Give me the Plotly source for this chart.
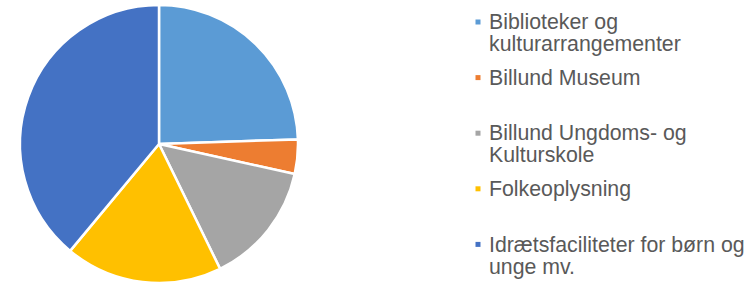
import plotly.graph_objects as go

# Data
categories = [
    "Biblioteker og kulturarrangementer",
    "Billund Museum",
    "Billund Ungdoms- og Kulturskole",
    "Folkeoplysning",
    "Idrætsfaciliteter for børn og unge mv.",
]
legend_lines = [
    ["Biblioteker og", "kulturarrangementer"],
    ["Billund Museum"],
    ["Billund Ungdoms- og", "Kulturskole"],
    ["Folkeoplysning"],
    ["Idrætsfaciliteter for børn og", "unge mv."],
]
shares = [24.5, 4.0, 14.3, 18.3, 39.0]
colors = ["#5B9BD5", "#ED7D31", "#A5A5A5", "#FFC000", "#4472C4"]

W, H = 749, 284

fig = go.Figure()
fig.add_trace(go.Pie(
    labels=categories,
    values=shares,
    sort=False,
    direction="clockwise",
    rotation=0,
    marker=dict(colors=colors, line=dict(color="white", width=2.5)),
    textinfo="none",
    showlegend=False,
    domain=dict(x=[20 / W, 298 / W], y=[1 - 283 / H, 1 - 5 / H]),
))

# Legend drawn as text annotations + square swatches
font = dict(family="Liberation Sans, Arial, sans-serif", size=21.3, color="#595959")
item_pitch = 55.6
line_pitch = 22.0
first_baseline = 29.5
annotations = []
shapes = []
for i, lines in enumerate(legend_lines):
    base = first_baseline + i * item_pitch
    for j, txt in enumerate(lines):
        b = base + j * line_pitch
        annotations.append(dict(
            x=487 / W, y=1 - (b - 7.3) / H, xref="paper", yref="paper",
            xanchor="left", yanchor="middle", text=txt, showarrow=False,
            font=font,
        ))
    cy = base - 7.5
    shapes.append(dict(
        type="rect", xref="paper", yref="paper",
        x0=475.5 / W, x1=480.5 / W, y0=1 - (cy + 2.5) / H, y1=1 - (cy - 2.5) / H,
        fillcolor=colors[i], line=dict(width=0),
    ))

fig.update_layout(
    width=W, height=H,
    margin=dict(l=0, r=0, t=0, b=0),
    paper_bgcolor="white",
    plot_bgcolor="white",
    annotations=annotations,
    shapes=shapes,
)

fig.write_html(
    "out.html",
    config={"displayModeBar": False},
    post_script="document.body.style.margin='0';document.body.style.overflow='hidden';",
)
